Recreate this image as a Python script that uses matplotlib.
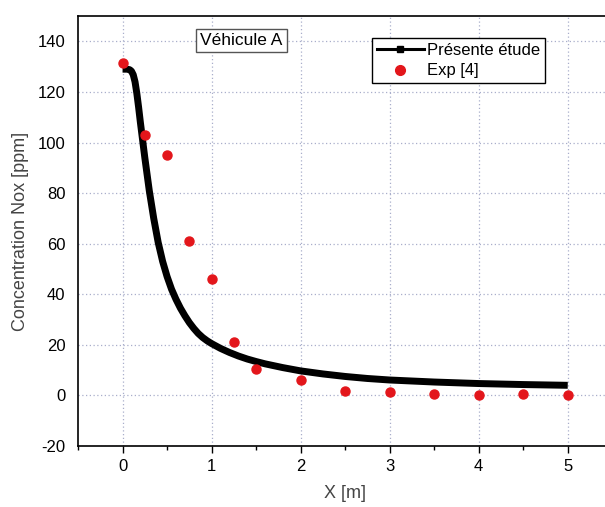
import matplotlib.pyplot as plt
from matplotlib.lines import Line2D
from matplotlib.ticker import MultipleLocator

# simulated curve (Présente étude)
x_sim = [0.0, 0.05, 0.08, 0.10, 0.12, 0.14, 0.16, 0.18, 0.20, 0.25, 0.30,
         0.35, 0.40, 0.45, 0.50, 0.55, 0.60, 0.65, 0.70, 0.75, 0.80,
         0.85, 0.90, 0.95, 1.00, 1.10, 1.20, 1.30, 1.40, 1.50, 1.60,
         1.80, 2.00, 2.25, 2.50, 2.75, 3.00, 3.50, 4.00, 4.50, 5.00]
y_sim = [129.0, 129.0, 128.8, 128.2, 126.8, 124.0, 119.5, 114.0, 108.0, 94.0, 81.0,
         70.0, 60.5, 53.0, 47.0, 42.0, 38.0, 34.5, 31.5, 28.8, 26.5,
         24.5, 22.9, 21.6, 20.5, 18.6, 17.0, 15.6, 14.4, 13.4, 12.5,
         11.0, 9.7, 8.5, 7.5, 6.7, 6.1, 5.3, 4.7, 4.3, 4.0]

# experimental points (Exp [4])
x_exp = [0.0, 0.25, 0.5, 0.75, 1.0, 1.25, 1.5, 2.0, 2.5, 3.0, 3.5, 4.0, 4.5, 5.0]
y_exp = [131.5, 103.0, 95.0, 61.0, 46.0, 21.0, 10.5, 6.2, 1.8, 1.2, 0.4, 0.0, 0.4, 0.0]

plt.rcParams['font.family'] = ['Liberation Sans', 'DejaVu Sans']
plt.rcParams['axes.unicode_minus'] = False

fig = plt.figure(figsize=(6.05, 5.07), dpi=100)
ax = fig.add_axes([0.129, 0.1203, 0.883, 0.848])

ax.plot(x_sim, y_sim, color='black', lw=5, solid_capstyle='butt',
        solid_joinstyle='round', zorder=3)
ax.plot(x_exp, y_exp, 'o', color='#e3161b', markersize=6.5, zorder=4)

ax.set_xlim(-0.5, 5.5)
ax.set_ylim(-20, 150)
ax.set_xticks(range(0, 6))
ax.xaxis.set_minor_locator(MultipleLocator(0.5))
ax.set_yticks(range(-20, 141, 20))

ax.grid(True, linestyle=(0, (1, 2)), color='#a9aecb', lw=0.9)
ax.set_axisbelow(True)
ax.tick_params(axis='x', which='major', direction='out', length=5, width=1, pad=4, labelsize=12)
ax.tick_params(axis='x', which='minor', direction='out', length=3, width=1)
ax.tick_params(axis='y', length=0, pad=9, labelsize=12)
ax.spines['right'].set_visible(False)
for s in ['left', 'bottom', 'top']:
    ax.spines[s].set_linewidth(1.2)

ax.set_xlabel('X [m]', fontsize=13, color='#444444', labelpad=8)
ax.set_ylabel('Concentration Nox [ppm]', fontsize=13, color='#444444', labelpad=6)

ax.text(0.306, 0.943, 'Véhicule A', transform=ax.transAxes, ha='center', va='center',
        fontsize=12.5, bbox=dict(boxstyle='square,pad=0.25', fc='white', ec='#555555', lw=1))

handles = [Line2D([0], [0], color='black', lw=2.2, marker='s', markersize=4.5),
           Line2D([0], [0], color='#e3161b', lw=0, marker='o', markersize=7)]
leg = ax.legend(handles, ['Présente étude', 'Exp [4]'], loc='upper left',
                bbox_to_anchor=(0.55, 0.95), numpoints=1, fontsize=12,
                fancybox=False, framealpha=1, edgecolor='black',
                handlelength=2.8, handletextpad=0.2, borderpad=0.3,
                labelspacing=0.35, borderaxespad=0)
leg.get_frame().set_linewidth(1)

fig.savefig('out.png', dpi=100)
